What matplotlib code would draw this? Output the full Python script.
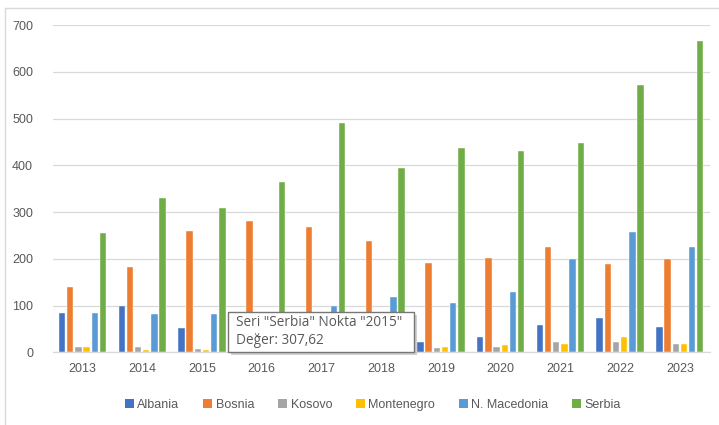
import numpy as np
import matplotlib
matplotlib.use("Agg")
import matplotlib.pyplot as plt
from matplotlib.patches import Patch, Rectangle

# veriler
years = ["2013", "2014", "2015", "2016", "2017", "2018", "2019", "2020", "2021", "2022", "2023"]
albania = [83, 99, 51, 65, 62, 48, 21, 32, 59, 73, 54]
bosnia = [139, 183, 260, 280, 269, 237, 190, 201, 226, 188, 199]
kosovo = [11, 11, 8, 10, 10, 9, 9, 11, 21, 21, 18]
montenegro = [11, 5, 5, 8, 9, 10, 11, 16, 18, 32, 18]
n_macedonia = [83, 81, 81, 82, 99, 118, 105, 128, 199, 257, 226]
serbia = [256, 330, 307.62, 365, 490, 394, 437, 431, 448, 571, 666]

series_names = ["Albania", "Bosnia", "Kosovo", "Montenegro", "N. Macedonia", "Serbia"]
series_values = [albania, bosnia, kosovo, montenegro, n_macedonia, serbia]
colors = ["#4472C4", "#ED7D31", "#A5A5A5", "#FFC000", "#5B9BD5", "#70AD47"]

W, H = 719, 425
plt.rcParams['font.family'] = ['Liberation Sans', 'DejaVu Sans']
fig = plt.figure(figsize=(W / 100, H / 100), dpi=100)

def px(x, y):
    # piksel -> figür koordinatı
    return x / W, 1 - y / H

ax = fig.add_axes([52.6 / W, 1 - 352.3 / H, (709.7 - 52.6) / W, (352.3 - 25) / H])

x = np.arange(len(years))
pitch = 0.137
width = 0.106
for i, (name, vals, c) in enumerate(zip(series_names, series_values, colors)):
    ax.bar(x + (i - 2.5) * pitch, vals, width, color=c, label=name,
           edgecolor="white", linewidth=0.3, zorder=3)

ax.set_xlim(-0.5, len(years) - 0.5)
ax.set_ylim(0, 700)
ax.set_yticks(range(0, 701, 100))
ax.set_xticks(x)
ax.set_xticklabels(years)
ax.tick_params(length=0, labelsize=9, colors="#595959")
ax.tick_params(axis="y", pad=14)
ax.tick_params(axis="x", pad=8)
ax.grid(axis="y", color="#D9D9D9", linewidth=0.9, zorder=0)
for s in ["top", "right", "left"]:
    ax.spines[s].set_visible(False)
ax.spines["bottom"].set_color("#D9D9D9")
ax.spines["bottom"].set_linewidth(0.9)

# lejant
handles = [Patch(facecolor=c, label=n) for n, c in zip(series_names, colors)]
fig.legend(handles=handles, loc="center", bbox_to_anchor=(373 / W, 1 - 405 / H),
           ncol=6, frameon=False, fontsize=9, handlelength=0.7, handleheight=0.7,
           handletextpad=0.3, columnspacing=1.9, labelcolor="#595959")

# grafik alanı çerçevesi
x0, y0 = px(5, 8)
fig.add_artist(Rectangle((x0, -0.1), 1.2, y0 + 0.1, transform=fig.transFigure,
                         fill=False, edgecolor="#D9D9D9", linewidth=1.0))

# ipucu kutusu
bx0, by0 = px(228.3, 351.7)
bx1, by1 = px(414.3, 311.7)
sx, sy = 3 / W, 3 / H
fig.add_artist(Rectangle((bx0 + sx, by0 - sy), bx1 - bx0, by1 - by0, transform=fig.transFigure,
                         facecolor="#BDBDBD", edgecolor="none", alpha=0.7, zorder=10))
fig.add_artist(Rectangle((bx0, by0), bx1 - bx0, by1 - by0, transform=fig.transFigure,
                         facecolor="white", edgecolor="#767676", linewidth=1.0, zorder=11))
tx, ty1 = px(236, 322)
_, ty2 = px(236, 340)
fig.text(tx, ty1, 'Seri "Serbia" Nokta "2015"', fontsize=9.8, color="#595959",
         va="center", ha="left", zorder=12, family=["Open Sans", "DejaVu Sans"])
fig.text(tx, ty2, 'Değer: 307,62', fontsize=9.8, color="#595959",
         va="center", ha="left", zorder=12, family=["Open Sans", "DejaVu Sans"])

fig.savefig("out.png", dpi=100)
